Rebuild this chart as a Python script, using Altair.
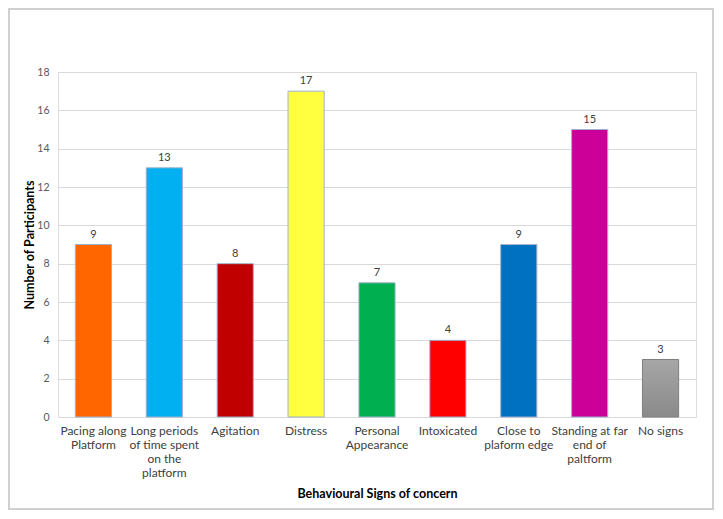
import altair as alt
import pandas as pd

categories = ["Pacing along|Platform", "Long periods|of time spent|on the|platform", "Agitation",
              "Distress", "Personal|Appearance", "Intoxicated", "Close to|plaform edge",
              "Standing at far|end of|paltform", "No signs"]
values = [9, 13, 8, 17, 7, 4, 9, 15, 3]
colors = ["#FF6600", "#00B0F0", "#C00000", "#FFFF3F", "#00B050", "#FF0000", "#0070C0", "#CC0099", "#999999"]
y_ticks = [0, 2, 4, 6, 8, 10, 12, 14, 16, 18]

df = pd.DataFrame({"category": categories, "value": values})

W, H = 638, 345
FONT = "Lato"

x_enc = alt.X("category:N", sort=categories, scale=alt.Scale(paddingInner=0.49, paddingOuter=0.245),
              axis=alt.Axis(title="Behavioural Signs of concern", labelAngle=0,
                            labelExpr="split(datum.label, '|')", labelLineHeight=14,
                            labelFontSize=12, labelColor="#404040", labelFont=FONT,
                            labelPadding=8, ticks=False, domainColor="#d9d9d9",
                            titleFont=FONT, titleFontSize=12.5, titleFontWeight="bold",
                            titleColor="#000000", titlePadding=9, labelLimit=200))
y_enc = alt.Y("value:Q", scale=alt.Scale(domain=[0, 18], nice=False),
              axis=alt.Axis(title="Number of Participants", values=y_ticks, ticks=False,
                            domain=False, gridColor="#d9d9d9", labelFontSize=10.5,
                            labelColor="#595959", labelFont=FONT, labelPadding=9,
                            titleFont=FONT, titleFontSize=12.5, titleFontWeight="bold",
                            titleColor="#000000", titlePadding=0))

base = alt.Chart(df).encode(x=x_enc, y=y_enc)

bars = base.transform_filter("datum.category != 'No signs'").mark_bar(
    stroke="#9fb3cc", strokeWidth=1).encode(
    color=alt.Color("category:N", scale=alt.Scale(domain=categories, range=colors), legend=None))

gray_bar = base.transform_filter("datum.category == 'No signs'").mark_bar(
    stroke="#7f7f7f", strokeWidth=1,
    fill={"x1": 0, "y1": 0, "x2": 0, "y2": 1, "gradient": "linear",
          "stops": [{"offset": 0, "color": "#a6a6a6"}, {"offset": 1, "color": "#8a8a8a"}]})

labels = base.mark_text(dy=-10, fontSize=11, font=FONT, color="#404040").encode(text="value:Q")

border = alt.Chart(df).mark_rect(fill=None, stroke="#d0d0d0", strokeWidth=1.5, clip=False).encode(
    x=alt.value(-49), x2=alt.value(W + 17), y=alt.value(-63), y2=alt.value(H + 92))

chart = alt.layer(bars, gray_bar, labels, border).properties(
    width=W, height=H,
    autosize=alt.AutoSizeParams(type="none"),
    padding={"left": 50, "top": 64, "right": 18, "bottom": 93},
).configure_view(stroke=None).configure(background="white")

chart.save("out.html", embed_options={"renderer": "svg", "actions": False})
